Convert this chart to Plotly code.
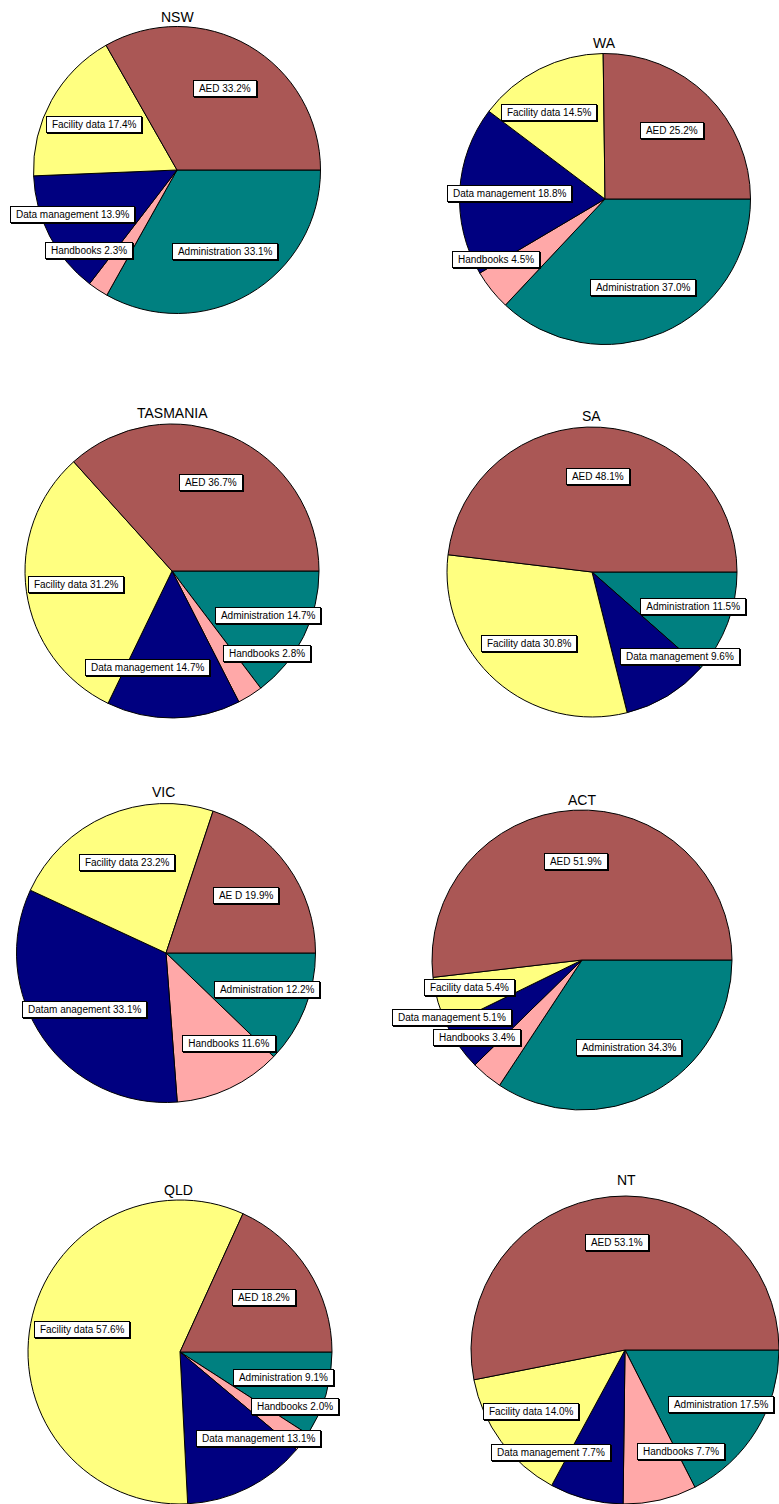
import math
import plotly.graph_objects as go

# ---------------- data ----------------
categories = ["Administration", "Handbooks", "Data management", "Facility data", "AED"]
states = ["NSW", "WA", "TASMANIA", "SA", "VIC", "ACT", "QLD", "NT"]

nsw = [33.1, 2.3, 13.9, 17.4, 33.2]
wa = [37.0, 4.5, 18.8, 14.5, 25.2]
tasmania = [14.7, 2.8, 14.7, 31.2, 36.7]
sa = [11.5, 0.0, 9.6, 30.8, 48.1]
vic = [12.2, 11.6, 33.1, 23.2, 19.9]
act = [34.3, 3.4, 5.1, 5.4, 51.9]
qld = [9.1, 2.0, 13.1, 57.6, 18.2]
nt = [17.5, 7.7, 7.7, 14.0, 53.1]

state_values = dict(zip(states, [nsw, wa, tasmania, sa, vic, act, qld, nt]))

# label text as printed in the source (VIC has typesetting quirks)
label_names = {"VIC": {"Data management": "Datam anagement", "AED": "AE D"}}

# ---------------- style / layout ----------------
W, H = 779, 1504
colors = {
    "Administration": "#008080",
    "Handbooks": "#FFA8A8",
    "Data management": "#000080",
    "Facility data": "#FFFF80",
    "AED": "#AA5755",
}
FONT = 'Arial, "Liberation Sans", sans-serif'

# pie centre (px) and radius (px)
pie_geom = {
    "NSW": (177, 170, 143.5),
    "WA": (605, 199, 145.5),
    "TASMANIA": (172, 571, 147),
    "SA": (592, 572, 145),
    "VIC": (166, 953, 149.5),
    "ACT": (582, 960, 150),
    "QLD": (180, 1352, 152),
    "NT": (625, 1350, 154),
}
title_pos = {
    "NSW": (177, 17), "WA": (604, 43), "TASMANIA": (172, 413), "SA": (591, 416),
    "VIC": (163, 792.5), "ACT": (582, 800), "QLD": (178, 1190), "NT": (626, 1180),
}
# labels default to slice mid-angle at 0.66 r; manual moves: (angle deg, fraction of r)
label_moves = {
    "NSW": {"Handbooks": (-137.7, 0.83), "Data management": (-157, 0.79)},
    "WA": {"Handbooks": (-151, 0.86), "Facility data": (123, 0.71)},
    "TASMANIA": {"Data management": (-104, 0.68), "Administration": (-25, 0.72),
                 "Handbooks": (-41, 0.86)},
    "SA": {"Administration": (-19, 0.74), "Data management": (-44, 0.84)},
    "VIC": {"Administration": (-20, 0.72), "Handbooks": (-55, 0.74)},
    "ACT": {"Facility data": (-166, 0.77), "Data management": (-156, 0.95),
            "Handbooks": (-143.7, 0.87)},
    "QLD": {"AED": (33, 0.66), "Facility data": (167, 0.66),
            "Administration": (-14, 0.70), "Handbooks": (-25.5, 0.84),
            "Data management": (-48, 0.77)},
    "NT": {"AED": (94.3, 0.70), "Administration": (-29.7, 0.72), "Facility data": (-147, 0.73),
           "Data management": (-126, 0.82), "Handbooks": (-61, 0.75)},
}

ARIAL = {'A': 667, 'D': 722, 'E': 667, 'F': 611, 'H': 722, 'a': 556, 'b': 556, 'c': 500,
         'd': 556, 'e': 556, 'f': 278, 'g': 556, 'i': 222, 'k': 500, 'l': 222, 'm': 833,
         'n': 556, 'o': 556, 'r': 333, 's': 500, 't': 278, 'y': 500, ' ': 278, '.': 278,
         '%': 889}


def text_width(s, size):
    return sum(ARIAL.get(ch, 556) for ch in s) * size / 1000.0


fig = go.Figure()
annotations = []

for st in states:
    vals = state_values[st]
    cx, cy, r = pie_geom[st]
    cats = [c for c, v in zip(categories, vals) if v > 0]
    vs = [v for v in vals if v > 0]
    fig.add_trace(go.Pie(
        labels=cats, values=vs, sort=False, direction="clockwise", rotation=90,
        marker=dict(colors=[colors[c] for c in cats], line=dict(color="black", width=1)),
        textinfo="none", hoverinfo="label+percent", showlegend=False,
        domain=dict(x=[(cx - r) / W, (cx + r) / W], y=[1 - (cy + r) / H, 1 - (cy - r) / H]),
    ))
    # title
    tx, ty = title_pos[st]
    annotations.append(dict(x=tx / W, y=1 - ty / H, xref="paper", yref="paper", text=st,
                            showarrow=False, xanchor="center", yanchor="middle",
                            font=dict(family=FONT, size=14, color="black")))
    # slice labels
    total = sum(vs)
    cum = 0.0
    for c, v in zip(cats, vs):
        start = -cum / total * 360.0
        mid = start - v / total * 180.0
        cum += v
        ang, frac = label_moves.get(st, {}).get(c, (mid, 0.66))
        lx = cx + frac * r * math.cos(math.radians(ang))
        ly = cy - frac * r * math.sin(math.radians(ang))
        name = label_names.get(st, {}).get(c, c)
        txt = f"{name} {v:.1f}%"
        tw = text_width(txt, 10) + 8
        common = dict(xref="paper", yref="paper", text=txt, showarrow=False,
                      xanchor="center", yanchor="middle", width=tw, height=13,
                      borderpad=1, borderwidth=1)
        # shadow
        annotations.append(dict(x=lx / W, y=1 - ly / H, xshift=1, yshift=-1,
                                bgcolor="black", bordercolor="black",
                                font=dict(family=FONT, size=10, color="black"), **common))
        annotations.append(dict(x=lx / W, y=1 - ly / H, bgcolor="white", bordercolor="black",
                                font=dict(family=FONT, size=10, color="black"), **common))

fig.update_layout(
    width=W, height=H, autosize=False,
    margin=dict(l=0, r=0, t=0, b=0),
    paper_bgcolor="white", plot_bgcolor="white",
    showlegend=False, annotations=annotations,
)

fig.write_html("out.html", config={"displayModeBar": False})
